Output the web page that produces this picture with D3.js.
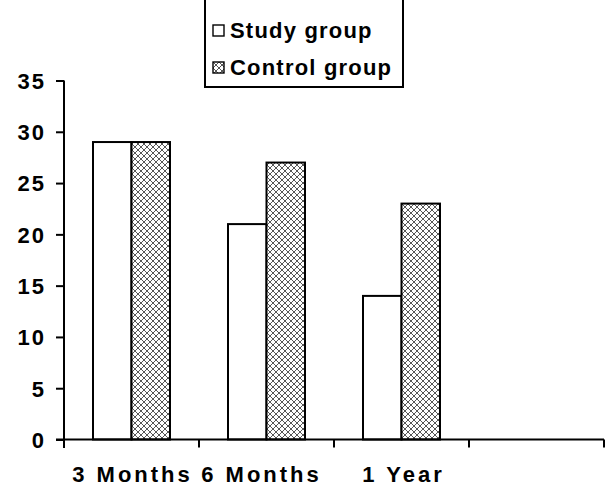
<!DOCTYPE html>
<html>
<head>
<meta charset="utf-8">
<script src="https://cdn.jsdelivr.net/npm/d3@7"></script>
<style>
  body { margin: 0; background: #fff; }
  text { font-family: "Liberation Sans", Arial, sans-serif; font-weight: bold; fill: #000; }
</style>
</head>
<body>
<div id="chart"></div>
<script>
(function(){

const categories = ["3 Months", "6 Months", "1 Year", ""];
const seriesNames = ["Study group", "Control group"];
const studyValues = [29, 21, 14];
const controlValues = [29, 27, 23];
const yTicks = [0, 5, 10, 15, 20, 25, 30, 35];

const width = 608;
const height = 492;

const svg = d3.select("#chart")
  .append("svg")
  .attr("width", width)
  .attr("height", height);

// crosshatch fill for control group
const defs = svg.append("defs");
const pat = defs.append("pattern")
  .attr("id", "hatch")
  .attr("patternUnits", "userSpaceOnUse")
  .attr("width", 6)
  .attr("height", 6);
pat.append("rect").attr("width", 6).attr("height", 6).attr("fill", "#fff");
pat.append("path")
  .attr("d", "M0,0 L6,6 M6,0 L0,6 M-1,5 L1,7 M5,-1 L7,1 M-1,1 L1,-1 M5,7 L7,5")
  .attr("stroke", "#444")
  .attr("stroke-width", 0.9);

const x = d3.scaleBand()
  .domain(categories.map((c, i) => i))
  .range([64, 604]);

const y = d3.scaleLinear()
  .domain([0, 35])
  .range([439.5, 80.5]);

const barW = 38.5;
const pad = (x.bandwidth() - 2 * barW) / 2;

const data = studyValues.map((v, i) => ({ i, study: v, control: controlValues[i] }));

const g = svg.append("g");

g.selectAll(".study")
  .data(data)
  .enter()
  .append("rect")
  .attr("x", d => x(d.i) + pad)
  .attr("y", d => y(d.study))
  .attr("width", barW)
  .attr("height", d => y(0) - y(d.study))
  .attr("fill", "#fff")
  .attr("stroke", "#000")
  .attr("stroke-width", 2);

g.selectAll(".control")
  .data(data)
  .enter()
  .append("rect")
  .attr("x", d => x(d.i) + pad + barW)
  .attr("y", d => y(d.control))
  .attr("width", barW)
  .attr("height", d => y(0) - y(d.control))
  .attr("fill", "url(#hatch)")
  .attr("stroke", "#000")
  .attr("stroke-width", 2);

// y axis
const yAxis = svg.append("g")
  .attr("transform", "translate(64,0)")
  .call(d3.axisLeft(y).tickValues(yTicks).tickSize(8).tickPadding(10));
yAxis.select(".domain").attr("stroke", "#000").attr("stroke-width", 2)
  .attr("d", `M0,${y(35)}V448`);
yAxis.selectAll(".tick line").attr("stroke", "#000").attr("stroke-width", 2);
yAxis.selectAll(".tick text")
  .style("font-size", "22px")
  .style("letter-spacing", "2px")
  .style("font-family", "'Liberation Sans', Arial, sans-serif")
  .style("font-weight", "bold")
  .attr("dy", "0.36em");

// x axis: ticks at band edges
const edges = categories.map((c, i) => x(i)).concat([x.range()[1]]);
const xg = svg.append("g");
xg.append("line")
  .attr("x1", 56).attr("x2", 604)
  .attr("y1", y(0)).attr("y2", y(0))
  .attr("stroke", "#000").attr("stroke-width", 2);
xg.selectAll(".xt")
  .data(edges)
  .enter()
  .append("line")
  .attr("x1", d => d).attr("x2", d => d)
  .attr("y1", y(0)).attr("y2", y(0) + 8)
  .attr("stroke", "#000").attr("stroke-width", 2);

const labelShift = [1, -5, 2, 0];
xg.selectAll(".xl")
  .data(categories)
  .enter()
  .append("text")
  .attr("x", (d, i) => x(i) + x.bandwidth() / 2 + labelShift[i])
  .attr("y", 482)
  .attr("text-anchor", "middle")
  .style("font-size", "22px")
  .style("letter-spacing", "3px")
  .text(d => d);

// legend
const lg = svg.append("g");
lg.append("rect")
  .attr("x", 205).attr("y", -2)
  .attr("width", 198).attr("height", 89)
  .attr("fill", "#fff")
  .attr("stroke", "#000")
  .attr("stroke-width", 2);

const legendRows = lg.selectAll(".row")
  .data(seriesNames)
  .enter()
  .append("g")
  .attr("transform", (d, i) => `translate(213,${25 + i * 37})`);

legendRows.append("rect")
  .attr("width", 11).attr("height", 11)
  .attr("fill", (d, i) => i === 0 ? "#fff" : "url(#hatch)")
  .attr("stroke", "#000")
  .attr("stroke-width", 1.4);

legendRows.append("text")
  .attr("x", 17)
  .attr("y", 13)
  .style("font-size", "22px")
  .style("letter-spacing", "1.2px")
  .text(d => d);

})();
</script>
</body>
</html>
